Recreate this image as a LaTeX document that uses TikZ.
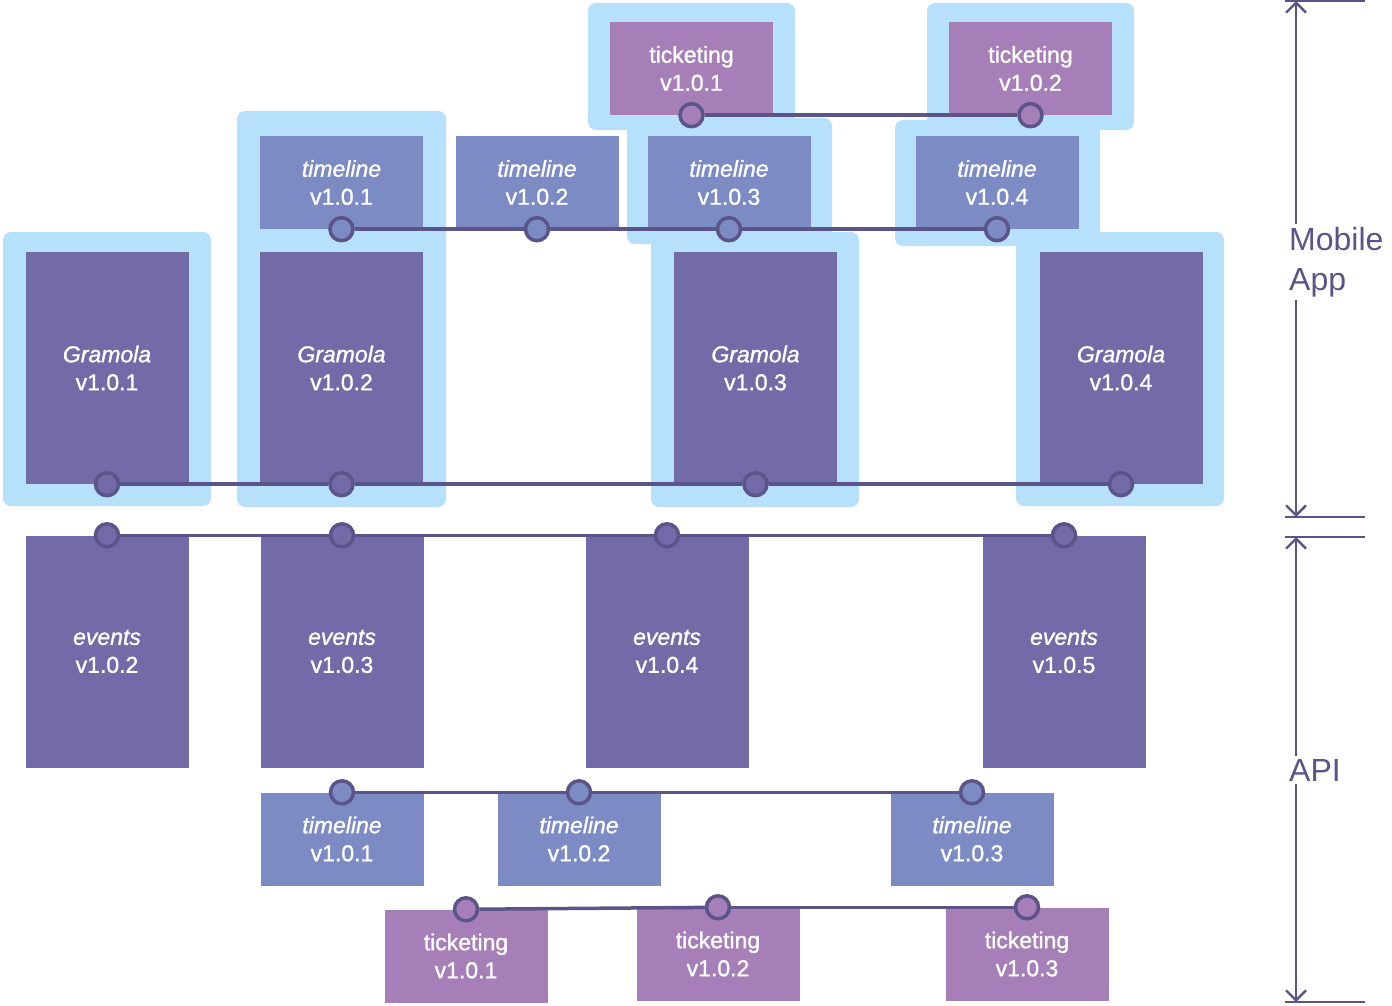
\documentclass[tikz,border=0pt]{standalone}
\usepackage{fontspec}
\setmainfont{Liberation Sans}
\newfontfamily\boxfont[FakeBold=1.2]{Liberation Sans}
\usetikzlibrary{arrows.meta}
\definecolor{hlc}{RGB}{183,224,252}
\definecolor{gramc}{RGB}{115,107,168}
\definecolor{timec}{RGB}{125,139,197}
\definecolor{tickc}{RGB}{166,127,185}
\definecolor{linec}{RGB}{90,84,136}
\begin{document}
\begin{tikzpicture}[x=1pt,y=-1pt,
  hl/.style={fill=hlc, rounded corners=8pt},
  vbox/.style={rectangle, inner sep=0pt, text=white, align=center,
    font=\boxfont\fontsize{23}{28}\selectfont, minimum width=163pt},
  gbox/.style={vbox, fill=gramc, minimum height=232pt},
  tbox/.style={vbox, fill=timec, minimum height=93pt},
  kbox/.style={vbox, fill=tickc, minimum height=93pt},
  dot/.style={circle, draw=linec, line width=3.5pt, minimum size=23pt, inner sep=0pt},
  conn/.style={draw=linec, line width=3.5pt},
  scaleline/.style={draw=linec, line width=2.4pt,
    {Straight Barb[length=10pt,width=20pt]}-{Straight Barb[length=10pt,width=20pt]}},
  tickline/.style={draw=linec, line width=2pt},
  lbl/.style={fill=white, text=linec, align=left, inner xsep=2pt, inner ysep=3pt,
    font=\fontsize{32}{40}\selectfont},
]
\useasboundingbox (0,0) rectangle (1392,1006);

% highlights
\fill[hl] (588,3) rectangle (795,130);
\fill[hl] (927,3) rectangle (1134,130);
\fill[hl] (627,118) rectangle (832,244);
\fill[hl] (895,120) rectangle (1100,246);
\fill[hl] (237,111) rectangle (446,507);
\fill[hl] (3,232) rectangle (211,506);
\fill[hl] (651,232) rectangle (859,507);
\fill[hl] (1016,232) rectangle (1224,506);

% top ticketing
\node[kbox] (k1) at (691.5,68.5) {ticketing\\v1.0.1};
\node[kbox] (k2) at (1030.5,68.5) {ticketing\\v1.0.2};
% top timeline
\node[tbox] (t1) at (341.5,182.5) {\textit{timeline}\\v1.0.1};
\node[tbox] (t2) at (537,182.5) {\textit{timeline}\\v1.0.2};
\node[tbox] (t3) at (729,182.5) {\textit{timeline}\\v1.0.3};
\node[tbox] (t4) at (997,182.5) {\textit{timeline}\\v1.0.4};
% Gramola
\node[gbox] (g1) at (107,368) {\textit{Gramola}\\v1.0.1};
\node[gbox] (g2) at (341.5,368) {\textit{Gramola}\\v1.0.2};
\node[gbox] (g3) at (755.5,368) {\textit{Gramola}\\v1.0.3};
\node[gbox] (g4) at (1121,368) {\textit{Gramola}\\v1.0.4};
% events
\node[gbox] (e1) at (107,651.5) {\textit{events}\\v1.0.2};
\node[gbox] (e2) at (342,651.5) {\textit{events}\\v1.0.3};
\node[gbox] (e3) at (667,651.5) {\textit{events}\\v1.0.4};
\node[gbox] (e4) at (1064,651.5) {\textit{events}\\v1.0.5};
% bottom timeline
\node[tbox] (b1) at (342,839) {\textit{timeline}\\v1.0.1};
\node[tbox] (b2) at (579,839) {\textit{timeline}\\v1.0.2};
\node[tbox] (b3) at (972,839) {\textit{timeline}\\v1.0.3};
% bottom ticketing
\node[kbox] (c1) at (466,956) {ticketing\\v1.0.1};
\node[kbox] (c2) at (718,954) {ticketing\\v1.0.2};
\node[kbox] (c3) at (1027,954) {ticketing\\v1.0.3};

% dots
\node[dot, fill=tickc] (k1d) at (k1.south) {};
\node[dot, fill=tickc] (k2d) at (k2.south) {};
\node[dot, fill=timec] (t1d) at (t1.south) {};
\node[dot, fill=timec] (t2d) at (t2.south) {};
\node[dot, fill=timec] (t3d) at (t3.south) {};
\node[dot, fill=timec] (t4d) at (t4.south) {};
\node[dot, fill=gramc] (g1d) at (g1.south) {};
\node[dot, fill=gramc] (g2d) at (g2.south) {};
\node[dot, fill=gramc] (g3d) at (g3.south) {};
\node[dot, fill=gramc] (g4d) at (g4.south) {};
\node[dot, fill=gramc] (e1d) at (e1.north) {};
\node[dot, fill=gramc] (e2d) at (e2.north) {};
\node[dot, fill=gramc] (e3d) at (e3.north) {};
\node[dot, fill=gramc] (e4d) at (e4.north) {};
\node[dot, fill=timec] (b1d) at (b1.north) {};
\node[dot, fill=timec] (b2d) at (b2.north) {};
\node[dot, fill=timec] (b3d) at (b3.north) {};
\node[dot, fill=tickc] (c1d) at (c1.north) {};
\node[dot, fill=tickc] (c2d) at (c2.north) {};
\node[dot, fill=tickc] (c3d) at (c3.north) {};

% connectors
\draw[conn] (k1d) -- (k2d);
\draw[conn] (t1d) -- (t2d);
\draw[conn] (t2d) -- (t3d);
\draw[conn] (t3d) -- (t4d);
\draw[conn] (g1d) -- (g2d);
\draw[conn] (g2d) -- (g3d);
\draw[conn] (g3d) -- (g4d);
\draw[conn] (e1d) -- (e2d);
\draw[conn] (e2d) -- (e3d);
\draw[conn] (e3d) -- (e4d);
\draw[conn] (b1d) -- (b2d);
\draw[conn] (b2d) -- (b3d);
\draw[conn] (c1d) -- (c2d);
\draw[conn] (c2d) -- (c3d);

% scale on the right
\coordinate (s1t) at (1296,1);
\coordinate (s1b) at (1296,517);
\coordinate (s2t) at (1296,537);
\coordinate (s2b) at (1296,1002);
\draw[tickline] (1285,1) -- (1365,1);
\draw[tickline] (1285,517) -- (1365,517);
\draw[tickline] (1285,537) -- (1365,537);
\draw[tickline] (1285,1002) -- (1365,1002);
\draw[scaleline] (s1t) -- (s1b);
\draw[scaleline] (s2t) -- (s2b);
\node[lbl, anchor=west] (mob) at (1287,262) {Mobile\\App};
\node[lbl, anchor=west] (api) at (1287,770) {API};
\end{tikzpicture}
\end{document}
